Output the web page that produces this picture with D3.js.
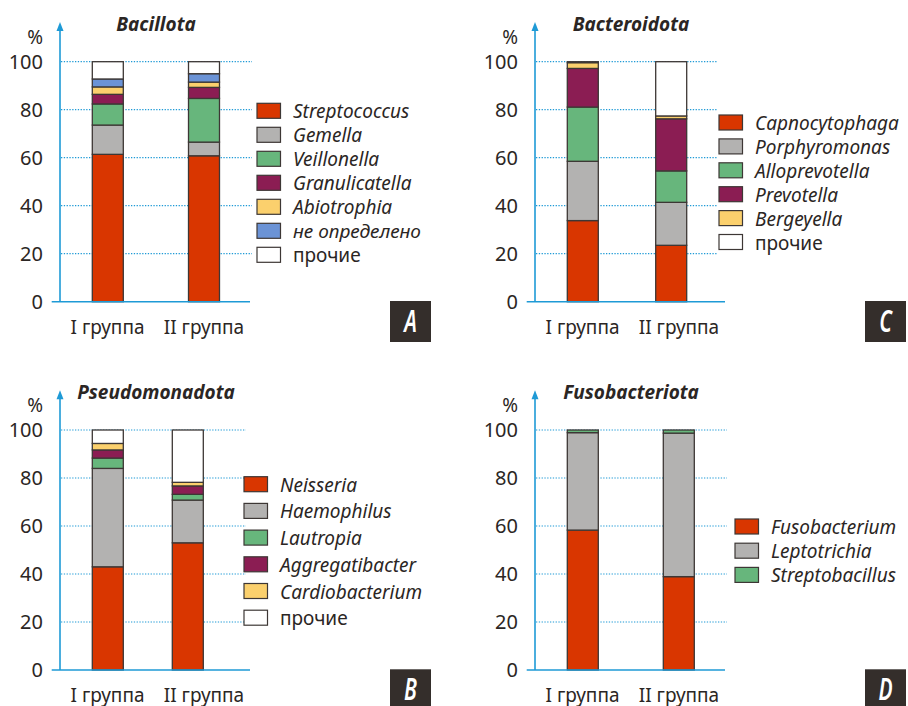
<!DOCTYPE html>
<html>
<head>
<meta charset="utf-8">
<script src="https://cdn.jsdelivr.net/npm/d3@7"></script>
<style>
  body { margin: 0; background: #fff; }
  text { font-family: "Noto Sans", sans-serif; fill: #2b2624; }
</style>
</head>
<body>
<div id="chart"></div>
<script>
// data (% of reads, bottom to top)
const groups = ["I группа", "II группа"];
const yTicks = [0, 20, 40, 60, 80, 100];

const bacillotaGenera = ["Streptococcus", "Gemella", "Veillonella", "Granulicatella", "Abiotrophia", "не определено", "прочие"];
const bacillotaI  = [61.4, 12.2, 8.8, 4.0, 3.1, 3.3, 7.2];
const bacillotaII = [60.8, 5.7, 18.2, 4.6, 2.2, 3.5, 5.0];

const pseudoGenera = ["Neisseria", "Haemophilus", "Lautropia", "Aggregatibacter", "Cardiobacterium", "прочие"];
const pseudoI  = [43.0, 41.0, 4.3, 3.4, 2.7, 5.6];
const pseudoII = [53.0, 17.8, 2.4, 3.5, 1.5, 21.8];

const bacteroGenera = ["Capnocytophaga", "Porphyromonas", "Alloprevotella", "Prevotella", "Bergeyella", "прочие"];
const bacteroI  = [33.8, 24.7, 22.6, 16.1, 2.4, 0.4];
const bacteroII = [23.5, 17.9, 13.1, 21.7, 1.2, 22.6];

const fusoGenera = ["Fusobacterium", "Leptotrichia", "Streptobacillus"];
const fusoI  = [58.3, 40.6, 1.1];
const fusoII = [38.9, 59.8, 1.3];

const red = "#d93600", grey = "#b3b2b1", green = "#67b67c", plum = "#8b1d53",
      yellow = "#fbd06d", blue = "#6b93d6", white = "#ffffff";

const blueAxis = "#1e9ad6";
const stroke = "#3d3735";

const svg = d3.select("#chart").append("svg")
    .attr("width", 908)
    .attr("height", 706);

const y = d3.scaleLinear().domain([0, 100]).range([301.7, 61.7]);
const xLabel = d3.scalePoint().domain(groups).range([107.5, 204]);

const panels = [
  {title: "Bacillota", genera: bacillotaGenera, vals: [bacillotaI, bacillotaII],
   colors: [red, grey, green, plum, yellow, blue, white],
   dx: 0, dy: 0, bar2: 204, gridEnd: 252, letter: "A",
   legX: 257, legY: 103.3, legStep: 24},
  {title: "Pseudomonadota", genera: pseudoGenera, vals: [pseudoI, pseudoII],
   colors: [red, grey, green, plum, yellow, white],
   dx: 0, dy: 368.3, bar2: 187.8, gridEnd: 246, letter: "B",
   legX: 244, legY: 108.4, legStep: 26.7},
  {title: "Bacteroidota", genera: bacteroGenera, vals: [bacteroI, bacteroII],
   colors: [red, grey, green, plum, yellow, white],
   dx: 475, dy: 0, bar2: 196.2, gridEnd: 243, letter: "C",
   legX: 244, legY: 115, legStep: 23.9},
  {title: "Fusobacteriota", genera: fusoGenera, vals: [fusoI, fusoII],
   colors: [red, grey, green],
   dx: 475, dy: 368.3, bar2: 203.8, gridEnd: 252, letter: "D",
   legX: 260, legY: 150.7, legStep: 24.2}
];

panels.forEach(p => drawPanel(p));

function drawPanel(p) {
  let g = svg.append("g").attr("transform", `translate(${p.dx},${p.dy})`);

  // grid
  g.selectAll(".grid").data(yTicks.slice(1)).enter()
    .append("line")
      .attr("x1", 61).attr("x2", p.gridEnd)
      .attr("y1", d => y(d)).attr("y2", d => y(d))
      .attr("stroke", blueAxis)
      .attr("stroke-width", 1.2)
      .attr("stroke-dasharray", "1.3,1.5");

  // tick labels
  let yAxis = g.append("g")
      .attr("transform", "translate(60,0)")
      .call(d3.axisLeft(y).tickValues(yTicks).tickSize(0).tickPadding(17));
  yAxis.select(".domain").remove();
  yAxis.selectAll("text")
      .style("font-size", "20px")
      .style("font-family", "Noto Sans")
      .attr("fill", "#2b2624");

  g.append("text")
      .attr("x", 43).attr("y", 44)
      .attr("text-anchor", "end")
      .style("font-size", "19px")
      .text("%");

  // bars
  let x = d3.scalePoint().domain(groups).range([107.8, p.bar2]);
  let rows = groups.map((grp, i) => {
    let r = {group: grp};
    p.genera.forEach((gen, j) => r[gen] = p.vals[i][j]);
    return r;
  });
  let stack = d3.stack().keys(p.genera)(rows);
  let color = d3.scaleOrdinal().domain(p.genera).range(p.colors);
  let bw = 31;

  g.selectAll(".layer").data(stack).enter()
    .append("g")
      .attr("fill", d => color(d.key))
    .selectAll("rect").data(d => d).enter()
    .append("rect")
      .attr("x", d => x(d.data.group) - bw / 2)
      .attr("y", d => y(d[1]))
      .attr("width", bw)
      .attr("height", d => y(d[0]) - y(d[1]))
      .attr("stroke", stroke)
      .attr("stroke-width", 1.3);

  // axes lines
  g.append("line")
      .attr("x1", 51.7).attr("x2", 250)
      .attr("y1", y(0)).attr("y2", y(0))
      .attr("stroke", blueAxis).attr("stroke-width", 1.6);
  g.append("line")
      .attr("x1", 60).attr("x2", 60)
      .attr("y1", y(0)).attr("y2", 28)
      .attr("stroke", blueAxis).attr("stroke-width", 1.6);
  g.append("path")
      .attr("d", "M60,22 L56.5,31 L63.5,31 Z")
      .attr("fill", blueAxis);

  // title
  g.append("text")
      .attr("x", 156).attr("y", 31)
      .attr("text-anchor", "middle")
      .style("font-size", "19px")
      .style("font-weight", "bold")
      .style("font-style", "italic")
      .text(p.title);

  // group labels
  g.selectAll(".glab").data(groups).enter()
    .append("text")
      .attr("x", d => xLabel(d))
      .attr("y", 334)
      .attr("text-anchor", "middle")
      .style("font-size", "19px")
      .text(d => d);

  // legend
  let leg = g.selectAll(".leg").data(p.genera).enter()
    .append("g")
      .attr("transform", (d, i) => `translate(${p.legX},${p.legY + i * p.legStep})`);
  leg.append("rect")
      .attr("width", 23.5).attr("height", 15)
      .attr("fill", d => color(d))
      .attr("stroke", stroke)
      .attr("stroke-width", 1.2);
  leg.append("text")
      .attr("x", 36).attr("y", 15)
      .style("font-size", "19px")
      .style("font-style", d => d == "прочие" ? "normal" : "italic")
      .text(d => d);

  // corner letter
  g.append("rect")
      .attr("x", 390).attr("y", 301)
      .attr("width", 41).attr("height", 41)
      .attr("fill", "#342e2b");
  g.append("text")
      .attr("transform", "translate(410.5,332) scale(0.7,1)")
      .attr("text-anchor", "middle")
      .style("font-size", "30px")
      .style("font-style", "italic")
      .style("font-weight", "600")
      .style("fill", "#fff")
      .text(p.letter);
}
</script>
</body>
</html>
